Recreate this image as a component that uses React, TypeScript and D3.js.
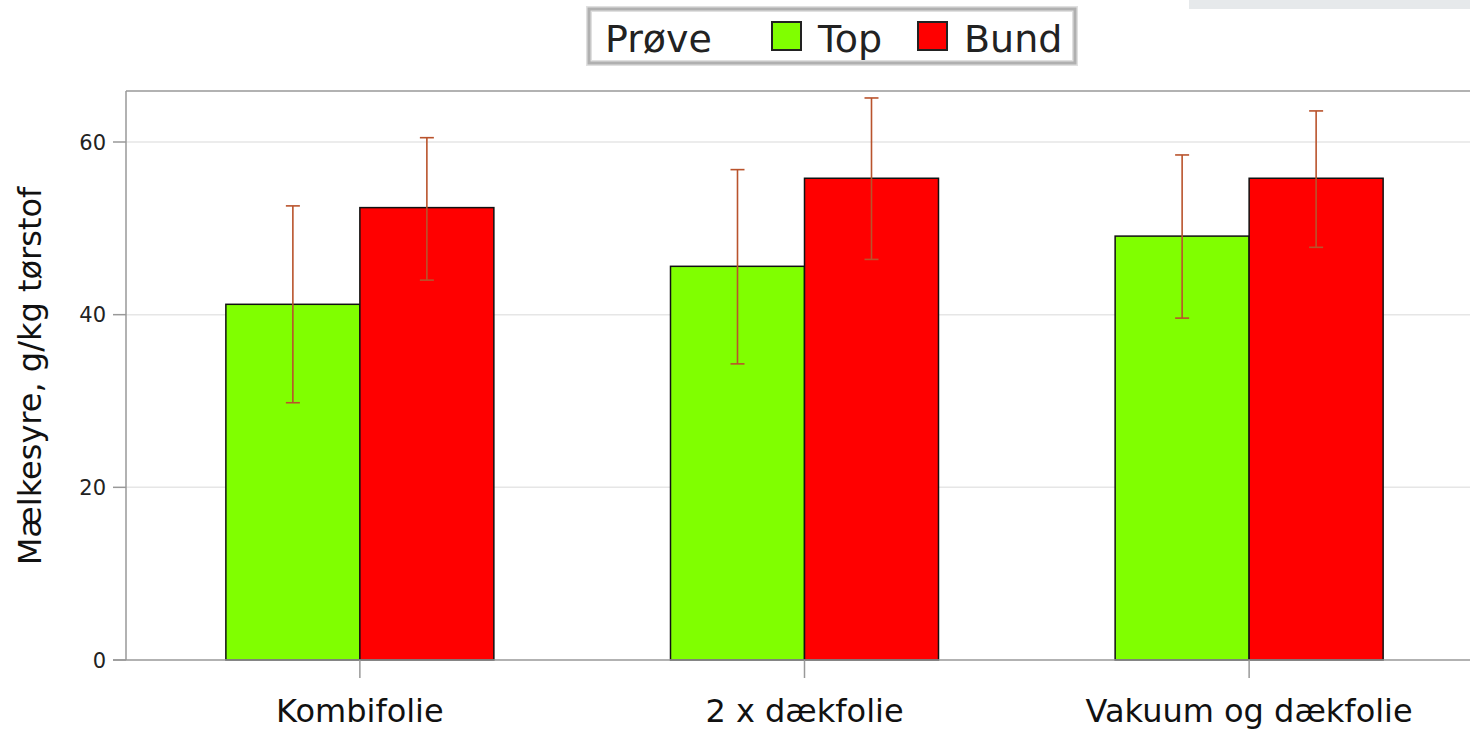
import React from "react";
import * as d3 from "d3";

const categories = ["Kombifolie", "2 x dækfolie", "Vakuum og dækfolie"];
const seriesNames = ["Top", "Bund"];
const seriesColors = ["#80ff00", "#ff0000"];
const topMeans = [41.2, 45.6, 49.1];
const topLow = [29.8, 34.3, 39.6];
const topHigh = [52.6, 56.8, 58.5];
const bundMeans = [52.4, 55.8, 55.8];
const bundLow = [44.0, 46.4, 47.8];
const bundHigh = [60.5, 65.1, 63.6];
const yTicks = [0, 20, 40, 60];
const legendTitle = "Prøve";
const yLabel = "Mælkesyre, g/kg tørstof";

const W = 1470;
const H = 729;
const FONT = "'DejaVu Sans', Verdana, sans-serif";

export default function App() {
  const left = 126;
  const right = 1483;
  const top = 91;
  const bottom = 660;

  const y = d3.scaleLinear().domain([0, 60]).range([bottom, 142]);
  const x = d3.scalePoint<string>().domain(categories).range([left, right]).padding(0.526);
  const barW = 134;
  const sub = d3.scaleBand<string>().domain(seriesNames).range([-barW, barW]).padding(0);

  const series = [
    { name: "Top", means: topMeans, low: topLow, high: topHigh, color: seriesColors[0] },
    { name: "Bund", means: bundMeans, low: bundLow, high: bundHigh, color: seriesColors[1] },
  ];

  const errColor = "#b9532c";

  return (
    <svg width={W} height={H} style={{ position: "absolute", left: 0, top: 0, background: "#fff" }} fontFamily={FONT}>
      <rect x={1189} y={0} width={W - 1189} height={9} fill="#e6e9eb" />
      {/* gridlines */}
      {yTicks.filter((t) => t > 0).map((t) => (
        <line key={t} x1={left} x2={W} y1={y(t)} y2={y(t)} stroke="#e6e6e6" strokeWidth={1.5} />
      ))}
      {/* bars */}
      {series.map((s) =>
        categories.map((c, i) => (
          <rect
            key={s.name + c}
            x={(x(c) as number) + (sub(s.name) as number)}
            y={y(s.means[i])}
            width={sub.bandwidth()}
            height={y(0) - y(s.means[i])}
            fill={s.color}
            stroke="#111"
            strokeWidth={1.5}
          />
        ))
      )}
      {/* error bars */}
      {series.map((s) =>
        categories.map((c, i) => {
          const cx = (x(c) as number) + (sub(s.name) as number) + sub.bandwidth() / 2;
          return (
            <g key={"e" + s.name + c} stroke={errColor} strokeWidth={1.6}>
              <line x1={cx} x2={cx} y1={y(s.low[i])} y2={y(s.high[i])} />
              <line x1={cx - 7} x2={cx + 7} y1={y(s.low[i])} y2={y(s.low[i])} />
              <line x1={cx - 7} x2={cx + 7} y1={y(s.high[i])} y2={y(s.high[i])} />
            </g>
          );
        })
      )}
      {/* axes */}
      <line x1={left} x2={W} y1={top} y2={top} stroke="#999" strokeWidth={1.5} />
      <line x1={left} x2={left} y1={top} y2={bottom} stroke="#999" strokeWidth={1.5} />
      <line x1={left - 13} x2={W} y1={bottom} y2={bottom} stroke="#999" strokeWidth={1.5} />
      {yTicks.map((t) => (
        <g key={"yt" + t}>
          <line x1={left - 13} x2={left} y1={y(t)} y2={y(t)} stroke="#999" strokeWidth={1.5} />
          <text x={left - 20} y={y(t)} dy="0.36em" textAnchor="end" fontSize={21} fill="#222">
            {t}
          </text>
        </g>
      ))}
      {categories.map((c) => (
        <g key={"xt" + c}>
          <line x1={x(c)} x2={x(c)} y1={bottom} y2={bottom + 18} stroke="#999" strokeWidth={1.5} />
          <text x={x(c)} y={722} textAnchor="middle" fontSize={32} fill="#111">
            {c}
          </text>
        </g>
      ))}
      <text
        transform={`translate(41, 376) rotate(-90)`}
        textAnchor="middle"
        fontSize={32}
        fill="#111"
      >
        {yLabel}
      </text>
      {/* legend */}
      <g>
        <rect x={589} y={9} width={486} height={54} fill="#fff" stroke="#e0e0e0" strokeWidth={6} />
        <rect x={589} y={9} width={486} height={54} fill="none" stroke="#b0b0b0" strokeWidth={3} />
        <text x={605} y={52} fontSize={38} fill="#222">
          {legendTitle}
        </text>
        {seriesNames.map((n, i) => {
          const lx = [772, 918][i];
          return (
            <g key={"lg" + n}>
              <rect x={lx} y={22} width={29} height={28} fill={seriesColors[i]} stroke="#222" strokeWidth={2} />
              <text x={lx + 46} y={52} fontSize={38} fill="#222">
                {n}
              </text>
            </g>
          );
        })}
      </g>
    </svg>
  );
}
